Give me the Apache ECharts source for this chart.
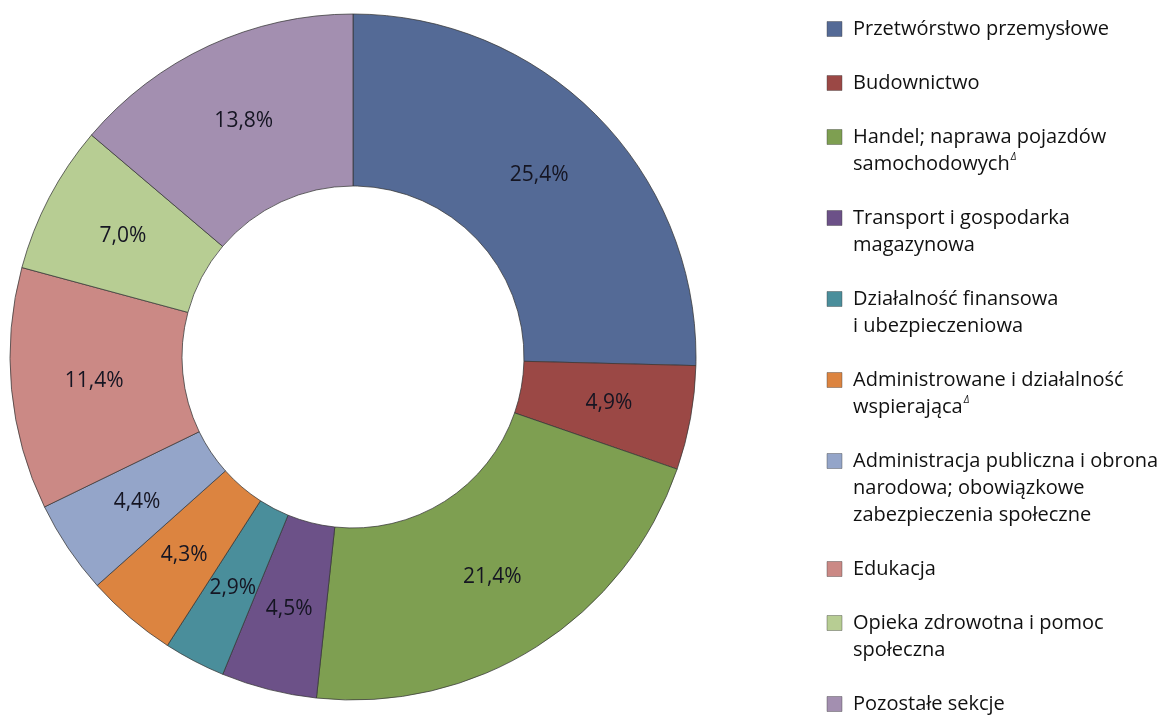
<!DOCTYPE html>
<html>
<head>
<meta charset="utf-8">
<script src="https://cdn.jsdelivr.net/npm/echarts@6/dist/echarts.min.js"></script>
<style>
  html, body { margin: 0; padding: 0; background: #fff; }
  #chart { width: 1159px; height: 715px; }
</style>
</head>
<body>
<div id="chart"></div>
<script>
// dane
const categories = [
  'Przetwórstwo przemysłowe',
  'Budownictwo',
  'Handel; naprawa pojazdów samochodowych',
  'Transport i gospodarka magazynowa',
  'Działalność finansowa i ubezpieczeniowa',
  'Administrowane i działalność wspierająca',
  'Administracja publiczna i obrona narodowa; obowiązkowe zabezpieczenia społeczne',
  'Edukacja',
  'Opieka zdrowotna i pomoc społeczna',
  'Pozostałe sekcje'
];
const shares = [25.4, 4.9, 21.4, 4.5, 2.9, 4.3, 4.4, 11.4, 7.0, 13.8];

// etykiety legendy (podział na linie, ^ = indeks górny Δ)
const legendLines = [
  ['Przetwórstwo przemysłowe'],
  ['Budownictwo'],
  ['Handel; naprawa pojazdów', 'samochodowych^'],
  ['Transport i gospodarka', 'magazynowa'],
  ['Działalność finansowa', 'i ubezpieczeniowa'],
  ['Administrowane i działalność', 'wspierająca^'],
  ['Administracja publiczna i obrona', 'narodowa; obowiązkowe', 'zabezpieczenia społeczne'],
  ['Edukacja'],
  ['Opieka zdrowotna i pomoc', 'społeczna'],
  ['Pozostałe sekcje']
];

const colors = ['#546A96', '#9B4845', '#7E9F51', '#6C5188', '#4A8E9B',
                '#DC8440', '#94A5C9', '#CB8985', '#B7CD93', '#A38FB0'];

const FONT = '"Open Sans", "Noto Sans", sans-serif';

const chart = echarts.init(document.getElementById('chart'));

// legenda rysowana ręcznie – kwadrat wyrównany do pierwszej linii
const buildLegend = () => {
  const items = [];
  const lineH = 27;
  const gap = 27;
  let y = 29; // środek pierwszej linii
  legendLines.forEach((lines, i) => {
    items.push({
      type: 'rect',
      shape: { x: 827, y: y - 7.5, width: 15, height: 15 },
      style: { fill: colors[i], stroke: 'rgba(60,60,60,0.5)', lineWidth: 0.8 }
    });
    const txt = lines.map(l => {
      if (l.endsWith('^')) return '{t|' + l.slice(0, -1) + '}{s|Δ}';
      return '{t|' + l + '}';
    }).join('\n');
    items.push({
      type: 'text',
      style: {
        x: 853,
        y: y - lineH / 2,
        text: txt,
        verticalAlign: 'top',
        fill: '#111',
        rich: {
          t: { fontFamily: FONT, fontSize: 20, lineHeight: lineH, color: '#111' },
          s: { fontFamily: FONT, fontSize: 10, fontStyle: 'italic', lineHeight: lineH, padding: [0, 0, 14, 1], color: '#444' }
        }
      }
    });
    y += lines.length * lineH + gap;
  });
  return items;
};

const option = {
  backgroundColor: '#fff',
  animation: false,
  color: colors,
  legend: { show: false },
  graphic: buildLegend(),
  series: [
    {
      type: 'pie',
      center: [353, 357],
      radius: [171, 343],
      startAngle: 90,
      clockwise: true,
      avoidLabelOverlap: false,
      itemStyle: {
        borderColor: 'rgba(55,55,55,0.75)',
        borderWidth: 1
      },
      label: {
        show: true,
        position: 'inside',
        fontFamily: FONT,
        fontSize: 21,
        color: '#151522',
        formatter: p => p.value.toFixed(1).replace('.', ',') + '%'
      },
      labelLine: { show: false },
      emphasis: { disabled: true },
      data: categories.map((name, i) => ({ name, value: shares[i] }))
    }
  ]
};

chart.setOption(option);
</script>
</body>
</html>
